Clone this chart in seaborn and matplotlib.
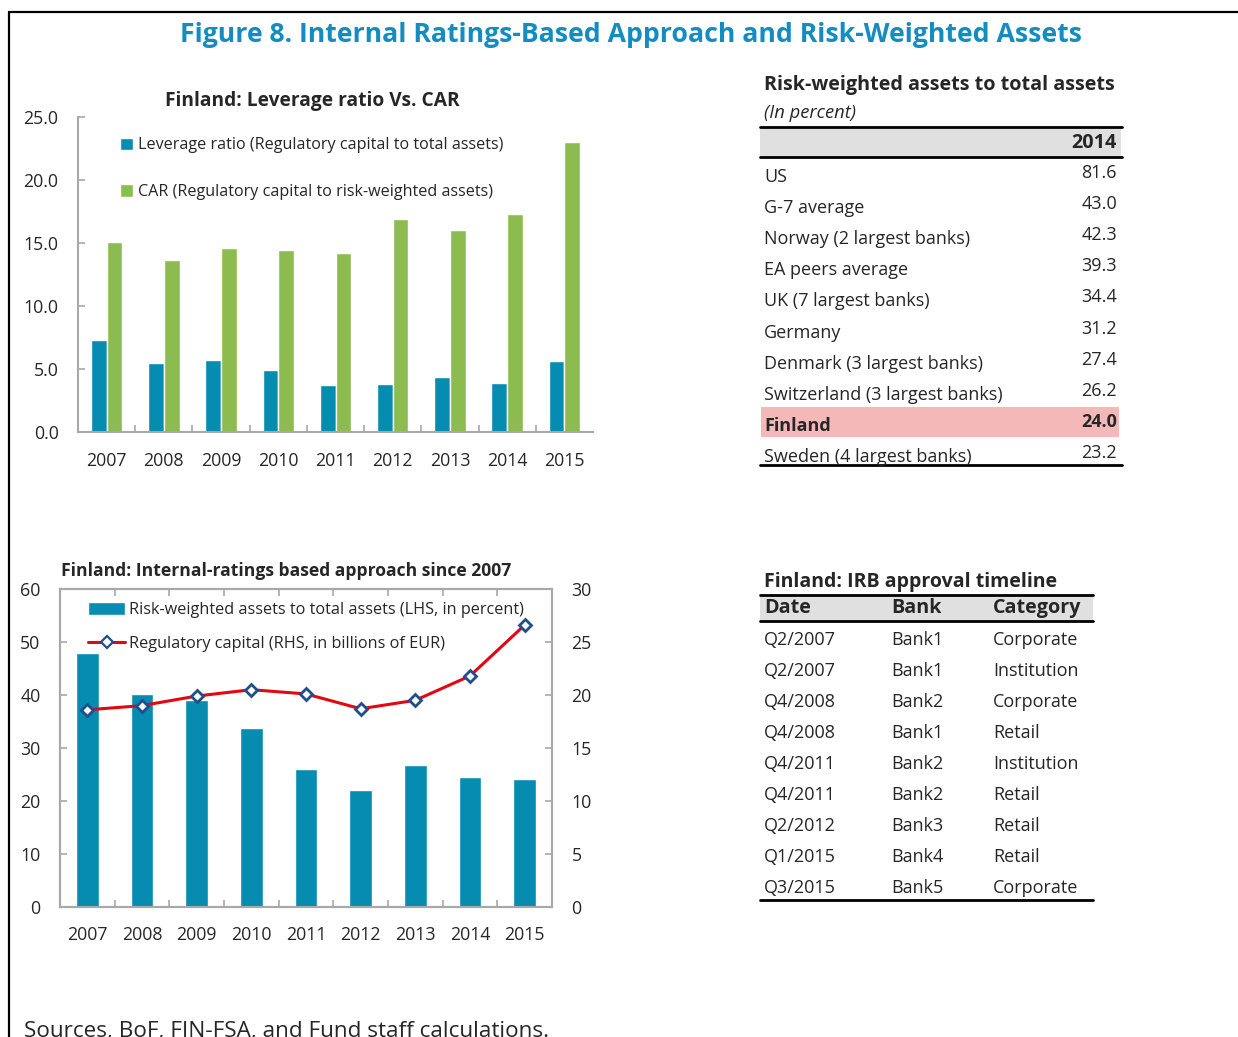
import numpy as np
import pandas as pd
import matplotlib
matplotlib.use("Agg")
import matplotlib.pyplot as plt
import seaborn as sns
from matplotlib.lines import Line2D
from matplotlib.patches import Patch, Rectangle

# ---------------- data ----------------
years = ["2007", "2008", "2009", "2010", "2011", "2012", "2013", "2014", "2015"]
leverage_ratio = [7.3, 5.5, 5.7, 4.9, 3.7, 3.8, 4.4, 3.9, 5.6]
car_ratio = [15.1, 13.65, 14.6, 14.45, 14.2, 16.9, 16.0, 17.3, 23.0]
rwa_share = [47.9, 40.1, 39.1, 33.8, 26.0, 22.1, 26.7, 24.6, 24.1]
reg_capital = [18.6, 19.0, 19.9, 20.5, 20.1, 18.7, 19.5, 21.8, 26.6]

peer_names = ["US", "G-7 average", "Norway (2 largest banks)", "EA peers average",
              "UK (7 largest banks)", "Germany", "Denmark (3 largest banks)",
              "Switzerland (3 largest banks)", "Finland", "Sweden (4 largest banks)"]
peer_rwa = ["81.6", "43.0", "42.3", "39.3", "34.4", "31.2", "27.4", "26.2", "24.0", "23.2"]

irb_dates = ["Q2/2007", "Q2/2007", "Q4/2008", "Q4/2008", "Q4/2011", "Q4/2011",
             "Q2/2012", "Q1/2015", "Q3/2015"]
irb_banks = ["Bank1", "Bank1", "Bank2", "Bank1", "Bank2", "Bank2", "Bank3", "Bank4", "Bank5"]
irb_categories = ["Corporate", "Institution", "Corporate", "Retail", "Institution",
                  "Retail", "Retail", "Retail", "Corporate"]

lev_label = "Leverage ratio (Regulatory capital to total assets)"
car_label = "CAR (Regulatory capital to risk-weighted assets)"
rwa_label = "Risk-weighted assets to total assets (LHS, in percent)"
cap_label = "Regulatory capital (RHS, in billions of EUR)"

TEAL = "#068bb1"
GREEN = "#8cbb4f"
RED = "#e30613"
NAVY = "#1f4e8c"
SPINE = "#a8a8a8"
TITLE_BLUE = "#138cc1"

# ---------------- style ----------------
sns.set_theme(style="ticks")
plt.rcParams["font.family"] = ["Open Sans", "DejaVu Sans"]
plt.rcParams["axes.edgecolor"] = SPINE

W, H = 1238, 1037
fig = plt.figure(figsize=(W / 100, H / 100), dpi=100)
fig.patch.set_facecolor("white")


def fx(x):
    return x / W


def fy(y):
    return 1 - y / H


# overlay axes in pixel coordinates (for titles, tables, frame)
ov = fig.add_axes([0, 0, 1, 1], zorder=-1)
ov.set_xlim(0, W)
ov.set_ylim(H, 0)
ov.axis("off")
ov.patch.set_alpha(0)

# frame lines
ov.plot([8, W], [12, 12], color="black", lw=1.6, solid_capstyle="butt")
ov.plot([9, 9], [12, H], color="black", lw=1.6, solid_capstyle="butt")

ov.text(631, 35, "Figure 8. Internal Ratings-Based Approach and Risk-Weighted Assets",
        ha="center", va="center", fontsize=19.2, fontweight="bold", color=TITLE_BLUE)

TICK_PAD = 14

# ---------------- top-left chart ----------------
ax1 = fig.add_axes([fx(78), fy(432), (593 - 78) / W, (432 - 117) / H])
df1 = pd.DataFrame({
    "year": years * 2,
    "value": leverage_ratio + car_ratio,
    "series": [lev_label] * len(years) + [car_label] * len(years),
})
sns.barplot(data=df1, x="year", y="value", hue="series", palette=[TEAL, GREEN],
            width=0.55, saturation=1, ax=ax1, legend=False)
ax1.set_xlim(-0.5, len(years) - 0.5)
ax1.set_ylim(0, 25)
ax1.set_yticks(np.arange(0, 26, 5))
ax1.set_yticklabels([f"{v:.1f}" for v in np.arange(0, 26, 5)])
ax1.set_xlabel("")
ax1.set_ylabel("")
sns.despine(ax=ax1)
for s in ["left", "bottom"]:
    ax1.spines[s].set_color(SPINE)
    ax1.spines[s].set_linewidth(1.5)
ax1.tick_params(axis="y", direction="in", length=5, color=SPINE, width=1.2,
                labelsize=12.8, pad=TICK_PAD)
ax1.tick_params(axis="x", which="major", length=0, labelsize=12.8, pad=14.5)
ax1.set_xticks(np.arange(0.5, len(years) - 0.5, 1), minor=True)
ax1.tick_params(axis="x", which="minor", direction="in", length=5, color=SPINE, width=1.2)
ax1.set_title("Finland: Leverage ratio Vs. CAR", fontsize=13.8, fontweight="bold",
              pad=8, x=0.455)
leg1 = ax1.legend(handles=[Patch(facecolor=TEAL, label=lev_label),
                           Patch(facecolor=GREEN, label=car_label)],
                  loc="upper left", bbox_to_anchor=(0.082, 0.935), frameon=False,
                  fontsize=11.6, handlelength=0.8, handleheight=0.8,
                  handletextpad=0.3, labelspacing=1.9, borderpad=0, borderaxespad=0)

# ---------------- bottom-left chart ----------------
ax2 = fig.add_axes([fx(60), fy(907), (552 - 60) / W, (907 - 589) / H])
sns.barplot(x=years, y=rwa_share, color=TEAL, width=0.42, saturation=1, ax=ax2)
ax2.set_xlim(-0.5, len(years) - 0.5)
ax2.set_ylim(0, 60)
ax2.set_yticks(np.arange(0, 61, 10))
ax2.set_xlabel("")
ax2.set_ylabel("")
for s in ax2.spines.values():
    s.set_color(SPINE)
    s.set_linewidth(1.5)
ax2.tick_params(axis="y", direction="in", length=5, color=SPINE, width=1.2,
                labelsize=12.8, pad=TICK_PAD)
ax2.tick_params(axis="x", which="major", length=0, labelsize=12.8, pad=14)
ax2.set_xticks(np.arange(0.5, len(years) - 0.5, 1), minor=True)
ax2.tick_params(axis="x", which="minor", direction="in", length=5, color=SPINE,
                width=1.2, top=True, bottom=True)

ax3 = ax2.twinx()
sns.lineplot(x=np.arange(len(years)), y=reg_capital, ax=ax3, color=RED, lw=2.2,
             marker="D", markersize=6, markerfacecolor="white",
             markeredgecolor=NAVY, markeredgewidth=2)
ax3.set_ylim(0, 30)
ax3.set_yticks(np.arange(0, 31, 5))
ax3.set_ylabel("")
for s in ax3.spines.values():
    s.set_color(SPINE)
    s.set_linewidth(1.5)
ax3.tick_params(axis="y", direction="in", length=5, color=SPINE, width=1.2,
                labelsize=12.8, pad=TICK_PAD)
ax3.set_xlim(-0.5, len(years) - 0.5)

ov.text(61, 571, "Finland: Internal-ratings based approach since 2007",
        ha="left", va="center", fontsize=12.6, fontweight="bold")

leg2 = ax3.legend(handles=[Patch(facecolor=TEAL, label=rwa_label),
                           Line2D([], [], color=RED, lw=2.2, marker="D", markersize=6,
                                  markerfacecolor="white", markeredgecolor=NAVY,
                                  markeredgewidth=1.6, label=cap_label)],
                  loc="upper left", bbox_to_anchor=(0.057, 0.958), frameon=False,
                  fontsize=11.7, handlelength=2.3, handleheight=0.8,
                  handletextpad=0.25, labelspacing=1.1, borderpad=0, borderaxespad=0)

# ---------------- table 1 ----------------
ov.text(764, 85, "Risk-weighted assets to total assets", fontsize=14.2,
        fontweight="bold", va="center", ha="left")
ov.text(764, 113, "(In percent)", fontsize=13.2, style="italic", va="center", ha="left")
ov.add_patch(Rectangle((760, 128), 361, 29, facecolor="#e0e0e0", edgecolor="none"))
ov.plot([760, 1122], [127, 127], color="black", lw=2)
ov.plot([760, 1122], [157, 157], color="black", lw=2)
ov.text(1117, 143, "2014", fontsize=14.2, fontweight="bold", ha="right", va="center")
row_h = 31.1
for i, (name, val) in enumerate(zip(peer_names, peer_rwa)):
    y = 177 + i * row_h
    bold = name == "Finland"
    if bold:
        ov.add_patch(Rectangle((761, y - 19), 358, 30, facecolor="#f4b8b8",
                               edgecolor="none"))
    w = "bold" if bold else "normal"
    ov.text(764, y, name, fontsize=13, fontweight=w, ha="left", va="center")
    ov.text(1117, y - 4, val, fontsize=13, fontweight=w, ha="right", va="center")
ov.plot([760, 1122], [465, 465], color="black", lw=2)

# ---------------- table 2 ----------------
ov.text(764, 582, "Finland: IRB approval timeline", fontsize=14, fontweight="bold",
        ha="left", va="center")
ov.add_patch(Rectangle((760, 596), 333, 25, facecolor="#e0e0e0", edgecolor="none"))
ov.plot([760, 1093], [595, 595], color="black", lw=2)
ov.plot([760, 1093], [621, 621], color="black", lw=2)
col_x = [764, 891, 993]
for cx, hd in zip(col_x, ["Date", "Bank", "Category"]):
    ov.text(cx, 608, hd, fontsize=14.2, fontweight="bold", ha="left", va="center")
for i, (d, b, c) in enumerate(zip(irb_dates, irb_banks, irb_categories)):
    y = 640 + i * 31
    for cx, t in zip(col_x, [d, b, c]):
        ov.text(cx, y, t, fontsize=13, ha="left", va="center")
ov.plot([760, 1093], [900, 900], color="black", lw=2)

# ---------------- source ----------------
ov.text(24, 1031, "Sources, BoF, FIN-FSA, and Fund staff calculations.",
        fontsize=16.2, ha="left", va="center")

fig.savefig("out.png", dpi=100, facecolor="white")
